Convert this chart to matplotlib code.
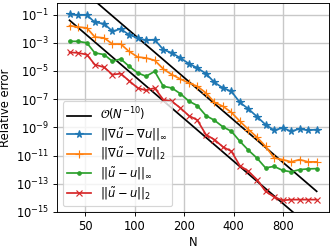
import matplotlib
matplotlib.use("Agg")
import matplotlib.pyplot as plt
import numpy as np
from matplotlib.ticker import NullLocator

# grid sizes N (geometric steps from 40 to 1280)
N = [40, 45, 51, 57, 65, 73, 82, 92, 104, 117, 132, 149, 168, 189, 213,
     240, 271, 305, 344, 387, 436, 492, 554, 625, 704, 793, 894, 1007, 1135, 1280]

# log10 of the relative errors
log_grad_inf = [-0.99, -1.03, -1.03, -1.55, -1.65, -2.19, -2.02, -2.43, -2.66, -2.83,
                -2.78, -3.49, -3.72, -4.08, -4.48, -4.79, -5.19, -5.81, -6.21, -6.45,
                -7.23, -7.70, -8.24, -8.81, -9.21, -9.04, -9.28, -9.11, -9.21, -9.16]
log_grad_l2 = [-1.79, -1.88, -1.95, -2.59, -2.66, -3.09, -3.09, -3.61, -4.01, -4.08,
               -4.25, -4.86, -5.26, -5.57, -5.85, -6.09, -6.56, -7.23, -7.51, -7.94,
               -8.57, -9.16, -9.70, -10.35, -11.17, -11.29, -11.45, -11.29, -11.45, -11.45]
log_u_inf = [-2.90, -2.90, -3.01, -3.72, -3.84, -4.32, -4.15, -4.66, -5.14, -5.38,
             -5.03, -6.09, -6.21, -6.61, -7.14, -7.46, -8.17, -8.50, -8.97, -9.28,
             -9.99, -10.63, -11.18, -11.88, -11.77, -12.05, -12.16, -12.00, -11.95, -11.93]
log_u_l2 = [-3.68, -3.72, -3.84, -4.55, -4.74, -5.26, -5.19, -5.69, -6.21, -6.38,
            -6.21, -7.04, -7.16, -7.62, -8.17, -8.49, -9.52, -9.87, -10.39, -10.70,
            -11.72, -12.12, -12.71, -13.54, -13.94, -14.18, -14.13, -14.13, -14.13, -14.13]

# reference slopes C * N^-10
REF_ORDER = 10
REF_UPPER_C = 3.4e17
REF_LOWER_C = 4.1e14

X_TICKS = [50, 100, 200, 400, 800]
Y_TICKS = [1e-1, 1e-3, 1e-5, 1e-7, 1e-9, 1e-11, 1e-13, 1e-15]

n = np.asarray(N, dtype=float)

fig = plt.figure(figsize=(4, 3), dpi=83)
ax = fig.add_axes([0.172, 0.149, 0.819, 0.839])

ax.loglog(n, REF_UPPER_C * n ** (-REF_ORDER), color="k", lw=1.5,
          label=r"$\mathcal{O}(N^{-10})$")
ax.loglog(n, REF_LOWER_C * n ** (-REF_ORDER), color="k", lw=1.5)

series = [
    (log_grad_inf, "*", r"$||\nabla\tilde{u} - \nabla u||_\infty$", 6.5),
    (log_grad_l2, "+", r"$||\nabla\tilde{u} - \nabla u||_2$", 7),
    (log_u_inf, ".", r"$||\tilde{u} - u||_\infty$", 6),
    (log_u_l2, "x", r"$||\tilde{u} - u||_2$", 6),
]
for vals, marker, label, ms in series:
    ax.loglog(n, 10.0 ** np.asarray(vals), marker=marker, ms=ms, lw=1.5, label=label)

ax.set_xlim(33.6, 1522)
ax.set_ylim(10 ** -15, 10 ** -0.18)
ax.set_xticks(X_TICKS)
ax.set_xticklabels([str(v) for v in X_TICKS])
ax.set_yticks(Y_TICKS)
ax.xaxis.set_minor_locator(NullLocator())
ax.yaxis.set_minor_locator(NullLocator())
ax.grid(True, which="major", color="#c8c8c8", lw=1.2)

ax.set_xlabel("N", labelpad=2.5)
ax.set_ylabel("Relative error", labelpad=3)
ax.legend(loc="lower left", fontsize=10, labelspacing=0.28)

fig.savefig("out.png", dpi=83)
